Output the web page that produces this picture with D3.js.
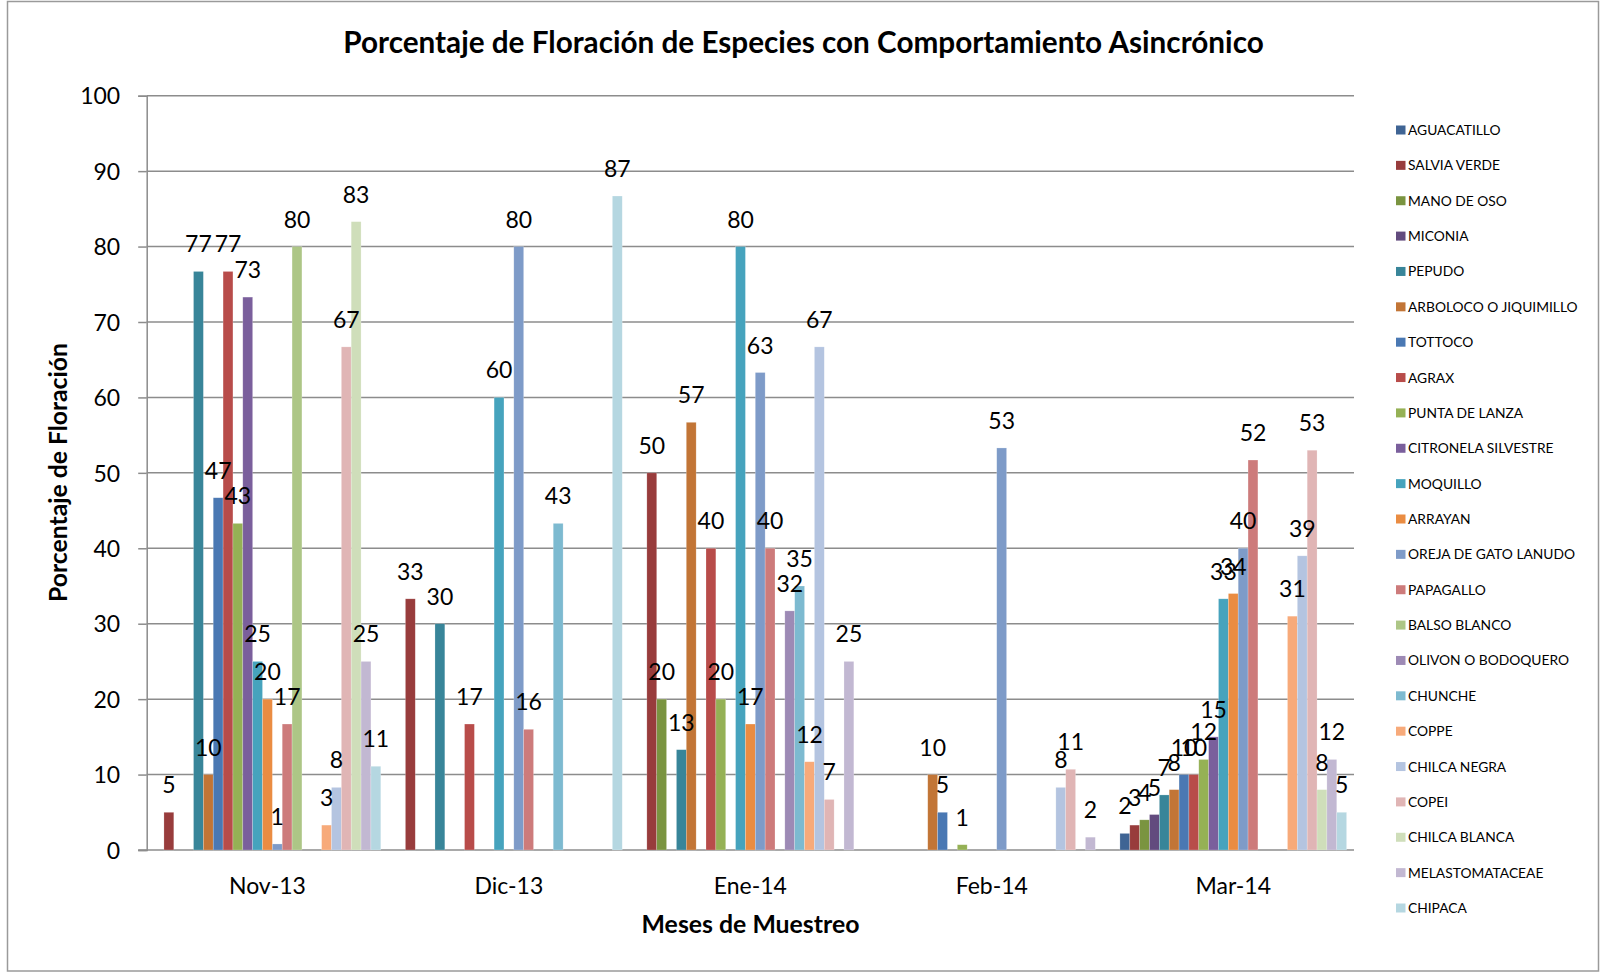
<!DOCTYPE html>
<html>
<head>
<meta charset="utf-8">
<script src="https://cdn.jsdelivr.net/npm/d3@7"></script>
<style>
  html, body { margin: 0; padding: 0; background: #ffffff; }
  svg { display: block; font-family: Lato, "Open Sans", sans-serif; }
</style>
</head>
<body>
<svg id="chart" width="1601" height="973"></svg>
<script>
// ---------- DATA ----------
const categories = ["Nov-13", "Dic-13", "Ene-14", "Feb-14", "Mar-14"];
const species = [
  "AGUACATILLO", "SALVIA VERDE", "MANO DE OSO", "MICONIA", "PEPUDO",
  "ARBOLOCO O JIQUIMILLO", "TOTTOCO", "AGRAX", "PUNTA DE LANZA",
  "CITRONELA SILVESTRE", "MOQUILLO", "ARRAYAN", "OREJA DE GATO LANUDO",
  "PAPAGALLO", "BALSO BLANCO", "OLIVON O BODOQUERO", "CHUNCHE", "COPPE",
  "CHILCA NEGRA", "COPEI", "CHILCA BLANCA", "MELASTOMATACEAE", "CHIPACA"
];
const seriesColors = [
  "#3f6494", "#983c3c", "#7a9440", "#624b7e", "#388599",
  "#c27536", "#4a78b3", "#b84c4a", "#95b155",
  "#7a5f9c", "#46a3bd", "#ea8c42", "#7e9bc8",
  "#cd7b7b", "#adc686", "#9d8ab5", "#7dbad0", "#f7aa7a",
  "#b4c4e0", "#e0b5b5", "#cfdeba", "#c2b8d2", "#b5d7e1"
];
// values per month, in the same order as `species` (null = no bar)
const nov13 = [null, 5, null, null, 76.7, 10, 46.7, 76.7, 43.3, 73.3, 25, 20, 0.8, 16.7, 80, null, null, 3.3, 8.3, 66.7, 83.3, 25, 11.1];
const dic13 = [null, 33.3, null, null, 30, null, null, 16.7, null, null, 60, null, 80, 16, null, null, 43.3, null, null, null, null, null, 86.7];
const ene14 = [null, 50, 20, null, 13.3, 56.7, null, 40, 20, null, 80, 16.7, 63.3, 40, null, 31.7, 35, 11.7, 66.7, 6.7, null, 25, null];
const feb14 = [null, null, null, null, null, 10, 5, null, 0.7, null, null, null, 53.3, null, null, null, null, null, 8.3, 10.7, null, 1.7, null];
const mar14 = [2.2, 3.3, 4, 4.7, 7.3, 8, 10, 10, 12, 15, 33.3, 34, 40, 51.7, null, null, null, 31, 39, 53, 8, 12, 5];
const yTicks = [0, 10, 20, 30, 40, 50, 60, 70, 80, 90, 100];

const titleText = "Porcentaje de Floración de Especies con Comportamiento Asincrónico";
const yTitleText = "Porcentaje de Floración";
const xTitleText = "Meses de Muestreo";

// ---------- LAYOUT ----------
const monthValues = [nov13, dic13, ene14, feb14, mar14];
const plot = { left: 146.7, right: 1354, top: 95.7, bottom: 850 };
const svg = d3.select("#chart");
const gridColor = "#8c8c8c";

// chart border
svg.append("rect")
  .attr("x", 7.5).attr("y", 1.5).attr("width", 1591).attr("height", 969.5)
  .attr("fill", "#ffffff").attr("stroke", "#9a9a9a").attr("stroke-width", 1.5);

const x0 = d3.scaleBand().domain(categories).range([plot.left, plot.right]).paddingInner(0).paddingOuter(0);
const x1 = d3.scaleBand().domain(species).range([0, x0.bandwidth()]).paddingInner(0).paddingOuter(0.75);
const y = d3.scaleLinear().domain([0, 100]).range([plot.bottom, plot.top]);

// gridlines
svg.append("g").selectAll("line").data(yTicks.filter(t => t > 0)).join("line")
  .attr("x1", plot.left).attr("x2", plot.right)
  .attr("y1", d => y(d)).attr("y2", d => y(d))
  .attr("stroke", gridColor).attr("stroke-width", 1.5);

// y axis
const yAxis = d3.axisLeft(y).tickValues(yTicks).tickSize(8.5).tickPadding(18);
const gy = svg.append("g").attr("transform", `translate(${plot.left},0)`).call(yAxis);
gy.select(".domain").attr("stroke", gridColor).attr("stroke-width", 1.5);
gy.selectAll(".tick line").attr("stroke", gridColor).attr("stroke-width", 1.5);
gy.selectAll(".tick text")
  .attr("font-family", "Lato, sans-serif").attr("font-size", 23).attr("fill", "#000")
  .attr("dy", "0.36em");

// x axis
const xAxis = d3.axisBottom(x0).tickSize(0).tickPadding(28);
const gx = svg.append("g").attr("transform", `translate(0,${plot.bottom})`).call(xAxis);
gx.select(".domain").attr("d", `M${plot.left - 8.5},0H${plot.right}`)
  .attr("stroke", gridColor).attr("stroke-width", 1.5);
gx.selectAll(".tick text")
  .attr("font-family", "Lato, sans-serif").attr("font-size", 23).attr("fill", "#000");

// bars
const barData = [];
monthValues.forEach((vals, ci) => {
  vals.forEach((v, si) => {
    if (v !== null && v !== undefined) barData.push({ cat: categories[ci], sp: species[si], si, v });
  });
});

svg.append("g").selectAll("rect").data(barData).join("rect")
  .attr("x", d => x0(d.cat) + x1(d.sp))
  .attr("y", d => y(d.v))
  .attr("width", x1.bandwidth())
  .attr("height", d => y(0) - y(d.v))
  .attr("fill", d => seriesColors[d.si])
  .attr("stroke", "#ffffff").attr("stroke-opacity", 0.35).attr("stroke-width", 0.6);

// data labels
svg.append("g").selectAll("text").data(barData).join("text")
  .attr("x", d => x0(d.cat) + x1(d.sp) + x1.bandwidth() / 2)
  .attr("y", d => y(d.v) - 19)
  .attr("text-anchor", "middle")
  .attr("font-family", "Lato, sans-serif").attr("font-size", 23).attr("fill", "#000")
  .text(d => d3.format("d")(Math.round(d.v)));

// titles
function fitWidth(sel, target) {
  const len = sel.node().getComputedTextLength();
  const fs = parseFloat(sel.attr("font-size"));
  sel.attr("font-size", fs * target / len);
}
const title = svg.append("text")
  .attr("x", 803.5).attr("y", 53).attr("text-anchor", "middle")
  .attr("font-family", "Lato, sans-serif").attr("font-weight", "bold").attr("font-size", 26)
  .attr("fill", "#000").text(titleText);
fitWidth(title, 921);

const xTitle = svg.append("text")
  .attr("x", 750.5).attr("y", 933).attr("text-anchor", "middle")
  .attr("font-family", "Lato, sans-serif").attr("font-weight", "bold").attr("font-size", 22)
  .attr("fill", "#000").text(xTitleText);
fitWidth(xTitle, 218);

const yTitle = svg.append("text")
  .attr("transform", "translate(67,472.5) rotate(-90)").attr("text-anchor", "middle")
  .attr("font-family", "Lato, sans-serif").attr("font-weight", "bold").attr("font-size", 21)
  .attr("fill", "#000").text(yTitleText);
fitWidth(yTitle, 259);

// legend
const legend = svg.append("g");
const legY = d3.scaleLinear().domain([0, species.length - 1]).range([130, 908]);
const items = legend.selectAll("g").data(species).join("g")
  .attr("transform", (d, i) => `translate(1396,${legY(i)})`);
items.append("rect").attr("x", 0).attr("y", -4.5).attr("width", 9.5).attr("height", 9)
  .attr("fill", (d, i) => seriesColors[i]);
items.append("text").attr("x", 12).attr("y", 0).attr("dy", "0.36em")
  .attr("font-family", "Lato, sans-serif").attr("font-size", 13.8).attr("fill", "#000")
  .text(d => d);
</script>
</body>
</html>
